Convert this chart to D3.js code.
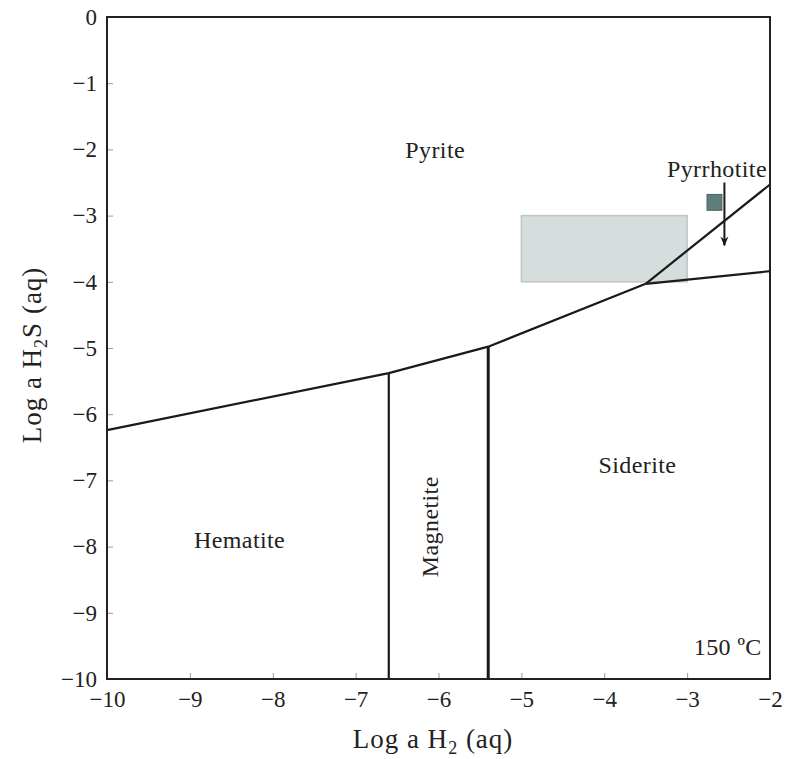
<!DOCTYPE html>
<html>
<head>
<meta charset="utf-8">
<script src="https://cdn.jsdelivr.net/npm/d3@7"></script>
<style>
  body { margin: 0; background: #fff; }
  text { font-family: "Liberation Serif", "DejaVu Serif", serif; fill: #222; }
</style>
</head>
<body>
<div class="canvas"></div>
<script>
// tick values
const xTicks = [-10, -9, -8, -7, -6, -5, -4, -3, -2];
const yTicks = [0, -1, -2, -3, -4, -5, -6, -7, -8, -9, -10];

// stability field boundaries [log aH2, log aH2S]
const pyriteLower = [[-10, -6.24], [-6.6, -5.38], [-5.4, -4.98], [-3.5, -4.03]];
const pyriteUpper = [[-3.5, -4.03], [-2, -2.53]];
const pyrrhotiteLower = [[-3.5, -4.03], [-2, -3.84]];
const hemMagBoundary = [[-6.6, -5.38], [-6.6, -10]];
const magSidBoundary = [[-5.4, -4.98], [-5.4, -10]];

// shaded box and small square
const greyBox = { x0: -5, x1: -3, y0: -3, y1: -4 };
const smallSquare = { x0: -2.76, x1: -2.58, y0: -2.68, y1: -2.92 };
const arrowLine = [[-2.55, -2.5], [-2.55, -3.45]];

// field labels
const fields = [
  { name: "Pyrite", x: -6.04, y: -2.04, rotate: false },
  { name: "Pyrrhotite", x: -2.64, y: -2.34, rotate: false },
  { name: "Siderite", x: -3.6, y: -6.8, rotate: false },
  { name: "Hematite", x: -8.4, y: -7.94, rotate: false },
  { name: "Magnetite", x: -6.07, y: -7.7, rotate: true },
  { name: "150 ºC", x: -2.51, y: -9.55, rotate: false }
];

const w = 787;
const h = 759;
const margin = { top: 17, right: 17, bottom: 80, left: 107 };
const graphWidth = w - margin.left - margin.right;
const graphHeight = h - margin.top - margin.bottom;

const svg = d3.select(".canvas").append("svg").attr("width", w).attr("height", h);
const graph = svg.append("g").attr("transform", `translate(${margin.left}, ${margin.top})`);

const x = d3.scaleLinear().domain([-10, -2]).range([0, graphWidth]);
const y = d3.scaleLinear().domain([0, -10]).range([0, graphHeight]);

// shaded box
graph.append("rect")
  .attr("x", x(greyBox.x0))
  .attr("y", y(greyBox.y0))
  .attr("width", x(greyBox.x1) - x(greyBox.x0))
  .attr("height", y(greyBox.y1) - y(greyBox.y0))
  .attr("fill", "#d5dddd")
  .attr("stroke", "#bcc6c6")
  .attr("stroke-width", 1.5);

graph.append("rect")
  .attr("x", x(smallSquare.x0))
  .attr("y", y(smallSquare.y0))
  .attr("width", x(smallSquare.x1) - x(smallSquare.x0))
  .attr("height", y(smallSquare.y1) - y(smallSquare.y0))
  .attr("fill", "#5e7d7b")
  .attr("stroke", "#4a6664")
  .attr("stroke-width", 1);

// axes (ticks pointing inward, grey)
const xAxis = d3.axisBottom(x).tickValues(xTicks).tickSizeInner(-6).tickSizeOuter(0).tickPadding(12);
const yAxis = d3.axisLeft(y).tickValues(yTicks).tickSizeInner(-6).tickSizeOuter(0).tickPadding(10);

const gx = graph.append("g").attr("transform", `translate(0, ${graphHeight})`).call(xAxis);
const gy = graph.append("g").call(yAxis);
[gx, gy].forEach((g) => {
  g.select(".domain").remove();
  g.selectAll(".tick line").attr("stroke", "#999").attr("stroke-width", 1);
  g.selectAll(".tick text")
    .style("font-family", '"Liberation Serif", serif')
    .style("font-size", "23px")
    .attr("fill", "#222");
});

// boundaries
const line = d3.line().x((d) => x(d[0])).y((d) => y(d[1]));
[pyriteLower, pyriteUpper, pyrrhotiteLower, hemMagBoundary].forEach((pts) => {
  graph.append("path")
    .attr("d", line(pts))
    .attr("fill", "none")
    .attr("stroke", "#1a1a1a")
    .attr("stroke-width", 2.2);
});
graph.append("path")
  .attr("d", line(magSidBoundary))
  .attr("fill", "none")
  .attr("stroke", "#1a1a1a")
  .attr("stroke-width", 3);

// arrow
svg.append("defs").append("marker")
  .attr("id", "arrow")
  .attr("viewBox", "0 0 10 10")
  .attr("refX", 9)
  .attr("refY", 5)
  .attr("markerWidth", 5)
  .attr("markerHeight", 5)
  .attr("orient", "auto")
  .append("path")
  .attr("d", "M0,1 L10,5 L0,9 L3,5 Z")
  .attr("fill", "#1a1a1a");

graph.append("path")
  .attr("d", line(arrowLine))
  .attr("stroke", "#1a1a1a")
  .attr("stroke-width", 2)
  .attr("marker-end", "url(#arrow)");

// frame
graph.append("rect")
  .attr("width", graphWidth)
  .attr("height", graphHeight)
  .attr("fill", "none")
  .attr("stroke", "#222")
  .attr("stroke-width", 2);

// field labels
fields.forEach((f) => {
  const t = graph.append("text")
    .attr("text-anchor", "middle")
    .attr("dominant-baseline", "middle")
    .style("font-size", "24px")
    .style("letter-spacing", "0.4px")
    .text(f.name);
  if (f.rotate) {
    t.attr("transform", `translate(${x(f.x)}, ${y(f.y)}) rotate(-90)`);
  } else {
    t.attr("x", x(f.x)).attr("y", y(f.y));
  }
});

// axis titles
const xt = svg.append("text")
  .attr("x", 433)
  .attr("y", 748)
  .attr("text-anchor", "middle")
  .style("font-size", "27px")
  .style("letter-spacing", "1px");
xt.append("tspan").text("Log a H");
xt.append("tspan").attr("dy", 6).style("font-size", "18px").text("2");
xt.append("tspan").attr("dy", -6).text(" (aq)");

const yt = svg.append("text")
  .attr("transform", `translate(41, 355) rotate(-90)`)
  .attr("text-anchor", "middle")
  .style("font-size", "27px")
  .style("letter-spacing", "1px");
yt.append("tspan").text("Log a H");
yt.append("tspan").attr("dy", 6).style("font-size", "18px").text("2");
yt.append("tspan").attr("dy", -6).text("S (aq)");
</script>
</body>
</html>
